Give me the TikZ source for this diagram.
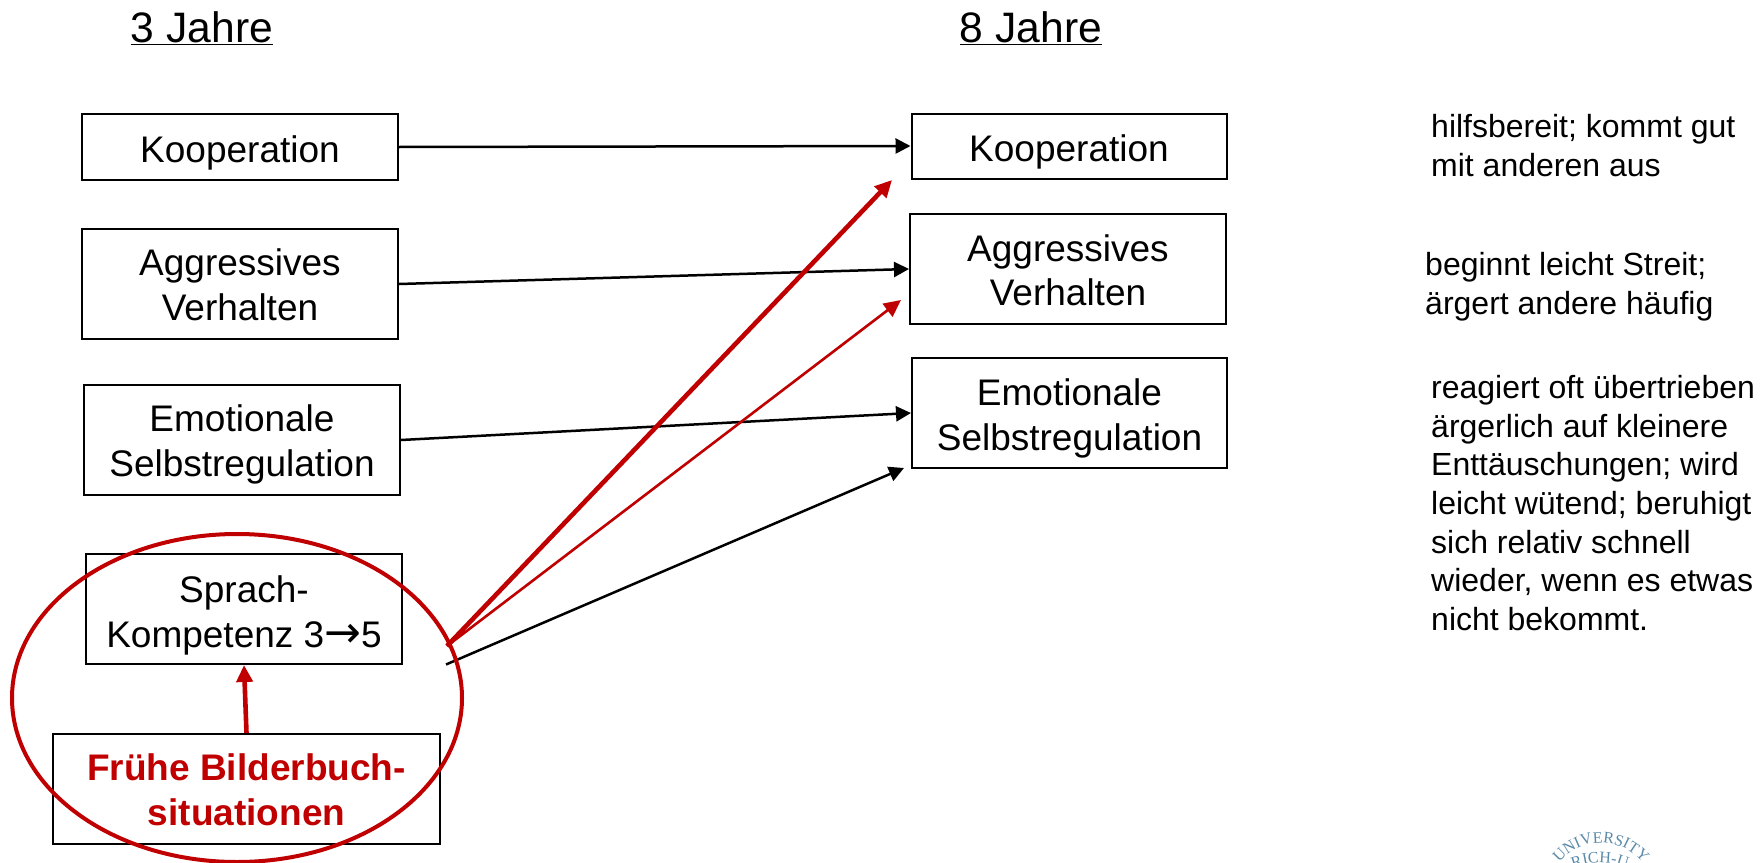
\documentclass[tikz,border=0pt]{standalone}
\usepackage{fontspec}
\setmainfont{Liberation Sans}
\newfontfamily\sealfont{Liberation Serif}
\newfontfamily\arrowfont{DejaVu Sans}
\usetikzlibrary{arrows.meta,decorations.text}
\definecolor{uzhred}{HTML}{C00000}
\definecolor{sealblue}{HTML}{5A8AA8}
\newcommand{\dn}[2]{\raisebox{-#1pt}[\height][\depth]{#2}}
\tikzset{
  x=1pt,y=-1pt,
  box/.style={draw=black,line width=2pt,align=center,inner sep=0pt,font=\fontsize{37}{45}\selectfont},
  title/.style={anchor=base,inner sep=0pt,font=\fontsize{42.6}{50}\selectfont},
  note/.style={anchor=north west,inner sep=0pt,align=left,font=\fontsize{32}{38.7}\selectfont},
  arrow/.style={-{Triangle[length=15pt,width=15pt]},line width=2.5pt,black},
  redthick/.style={-{Triangle[length=17pt,width=16pt]},line width=4.6pt,uzhred},
  redthin/.style={-{Triangle[length=17pt,width=16pt]},line width=2.6pt,uzhred},
  sealtext/.style={decorate,decoration={text along path,text align=center,
     text={|\fontsize{16}{16}\selectfont\sealfont\color{sealblue}|#1}}}
}
\begin{document}
\begin{tikzpicture}
\useasboundingbox (0,0) rectangle (1764,862);
\fill[white] (0,0) rectangle (1764,862);
% titles
\node[title] (t1) at (202,42) {\underline{3 Jahre}};
\node[title] (t2) at (1031,42) {\underline{8 Jahre}};
% left column
\node[box,minimum width=316pt,minimum height=66pt] (k1) at (240,147) {\dn{6}{Kooperation}};
\node[box,minimum width=316pt,minimum height=110pt] (a1) at (240,284) {\dn{1}{Aggressives}\\\dn{1}{Verhalten}};
\node[box,minimum width=316pt,minimum height=110pt] (e1) at (242,440) {\dn{4}{Emotionale}\\\dn{4}{Selbstregulation}};
\node[box,minimum width=316pt,minimum height=110pt] (s1) at (244,609) {\dn{6}{Sprach-}\\\dn{6}{Kompetenz 3{\arrowfont\fontsize{44}{45}\selectfont →}5}};
\node[box,minimum width=387pt,minimum height=110pt,text=uzhred,font=\fontsize{37}{45}\selectfont\bfseries] (f1) at (246.5,789) {\dn{1}{Frühe Bilderbuch-}\\\dn{1}{situationen}};
% right column
\node[box,minimum width=315pt,minimum height=65pt] (k2) at (1069,146) {\dn{6}{Kooperation}};
\node[box,minimum width=316pt,minimum height=110pt] (a2) at (1068,269) {\dn{2}{Aggressives}\\\dn{1}{Verhalten}};
\node[box,minimum width=315pt,minimum height=110pt] (e2) at (1069.5,413) {\dn{5}{Emotionale}\\\dn{5}{Selbstregulation}};
% notes
\node[note] (n1) at (1431,114) {hilfsbereit; kommt gut\\mit anderen aus};
\node[note] (n2) at (1425,252) {beginnt leicht Streit;\\ärgert andere häufig};
\node[note] (n3) at (1431,375) {reagiert oft übertrieben\\ärgerlich auf kleinere\\Enttäuschungen; wird\\leicht wütend; beruhigt\\sich relativ schnell\\wieder, wenn es etwas\\nicht bekommt.};
% free ends
\coordinate (rs) at (447,646);
\coordinate (bs) at (446,664.5);
\coordinate (rk) at (892,180);
\coordinate (ra) at (901,300);
\coordinate (be) at (904,468);
% connectors
\draw[arrow] (k1.east) -- (k2.west);
\draw[arrow] (a1.east) -- (a2.west);
\draw[arrow] (e1.east) -- (e2.west);
\draw[arrow] (bs) -- (be);
\draw[redthick] (rs) -- (rk);
\draw[redthin] (rs) -- (ra);
\draw[redthick] (f1.north) -- (s1.south);
% ellipse
\draw[uzhred,line width=4pt] (237,698) ellipse [x radius=225,y radius=164];
% seal
\path[sealtext={UNIVERSITY}] (1557,866) .. controls (1578,835) and (1624,835) .. (1645,866);
\path[sealtext={RICH-U}] (1566,872) .. controls (1585,860) and (1615,860) .. (1634,872);
\end{tikzpicture}
\end{document}
